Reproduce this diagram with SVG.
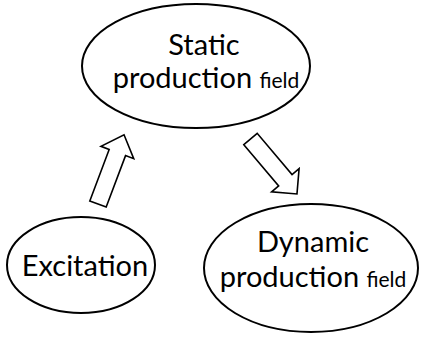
<svg xmlns="http://www.w3.org/2000/svg" width="422" height="338" viewBox="0 0 422 338">
<style>
.node{fill:#fff;stroke:#000;stroke-width:2}
.arr{fill:#fff;stroke:#000;stroke-width:1.6;stroke-linejoin:miter}
text{font-family:Lato,"Open Sans","Liberation Sans",sans-serif;font-size:29px;fill:#000;text-anchor:middle}
.sm{font-size:21px}
</style>
<rect width="422" height="338" fill="#fff"/>
<g id="static">
<ellipse class="node" cx="196" cy="66" rx="114" ry="62"/>
<text x="204" y="55">Static</text>
<text x="206" y="88">production <tspan class="sm">field</tspan></text>
</g>
<g id="excitation">
<ellipse class="node" cx="81" cy="265" rx="74" ry="48"/>
<text x="85" y="276">Excitation</text>
</g>
<g id="dynamic">
<ellipse class="node" cx="311" cy="268" rx="107" ry="64"/>
<text x="313" y="252">Dynamic</text>
<text x="313" y="287">production <tspan class="sm">field</tspan></text>
</g>
<g id="connectors">
<polygon class="arr" transform="translate(98,204) rotate(20.6)" points="-8.75,0 -8.75,-55 -17.5,-55 0,-74 17.5,-55 8.75,-55 8.75,0"/>
<polygon class="arr" transform="translate(250.5,139) rotate(-40.2)" points="-8.75,0 -8.75,54 -18,54 0,72 18,54 8.75,54 8.75,0"/>
</g>
</svg>
